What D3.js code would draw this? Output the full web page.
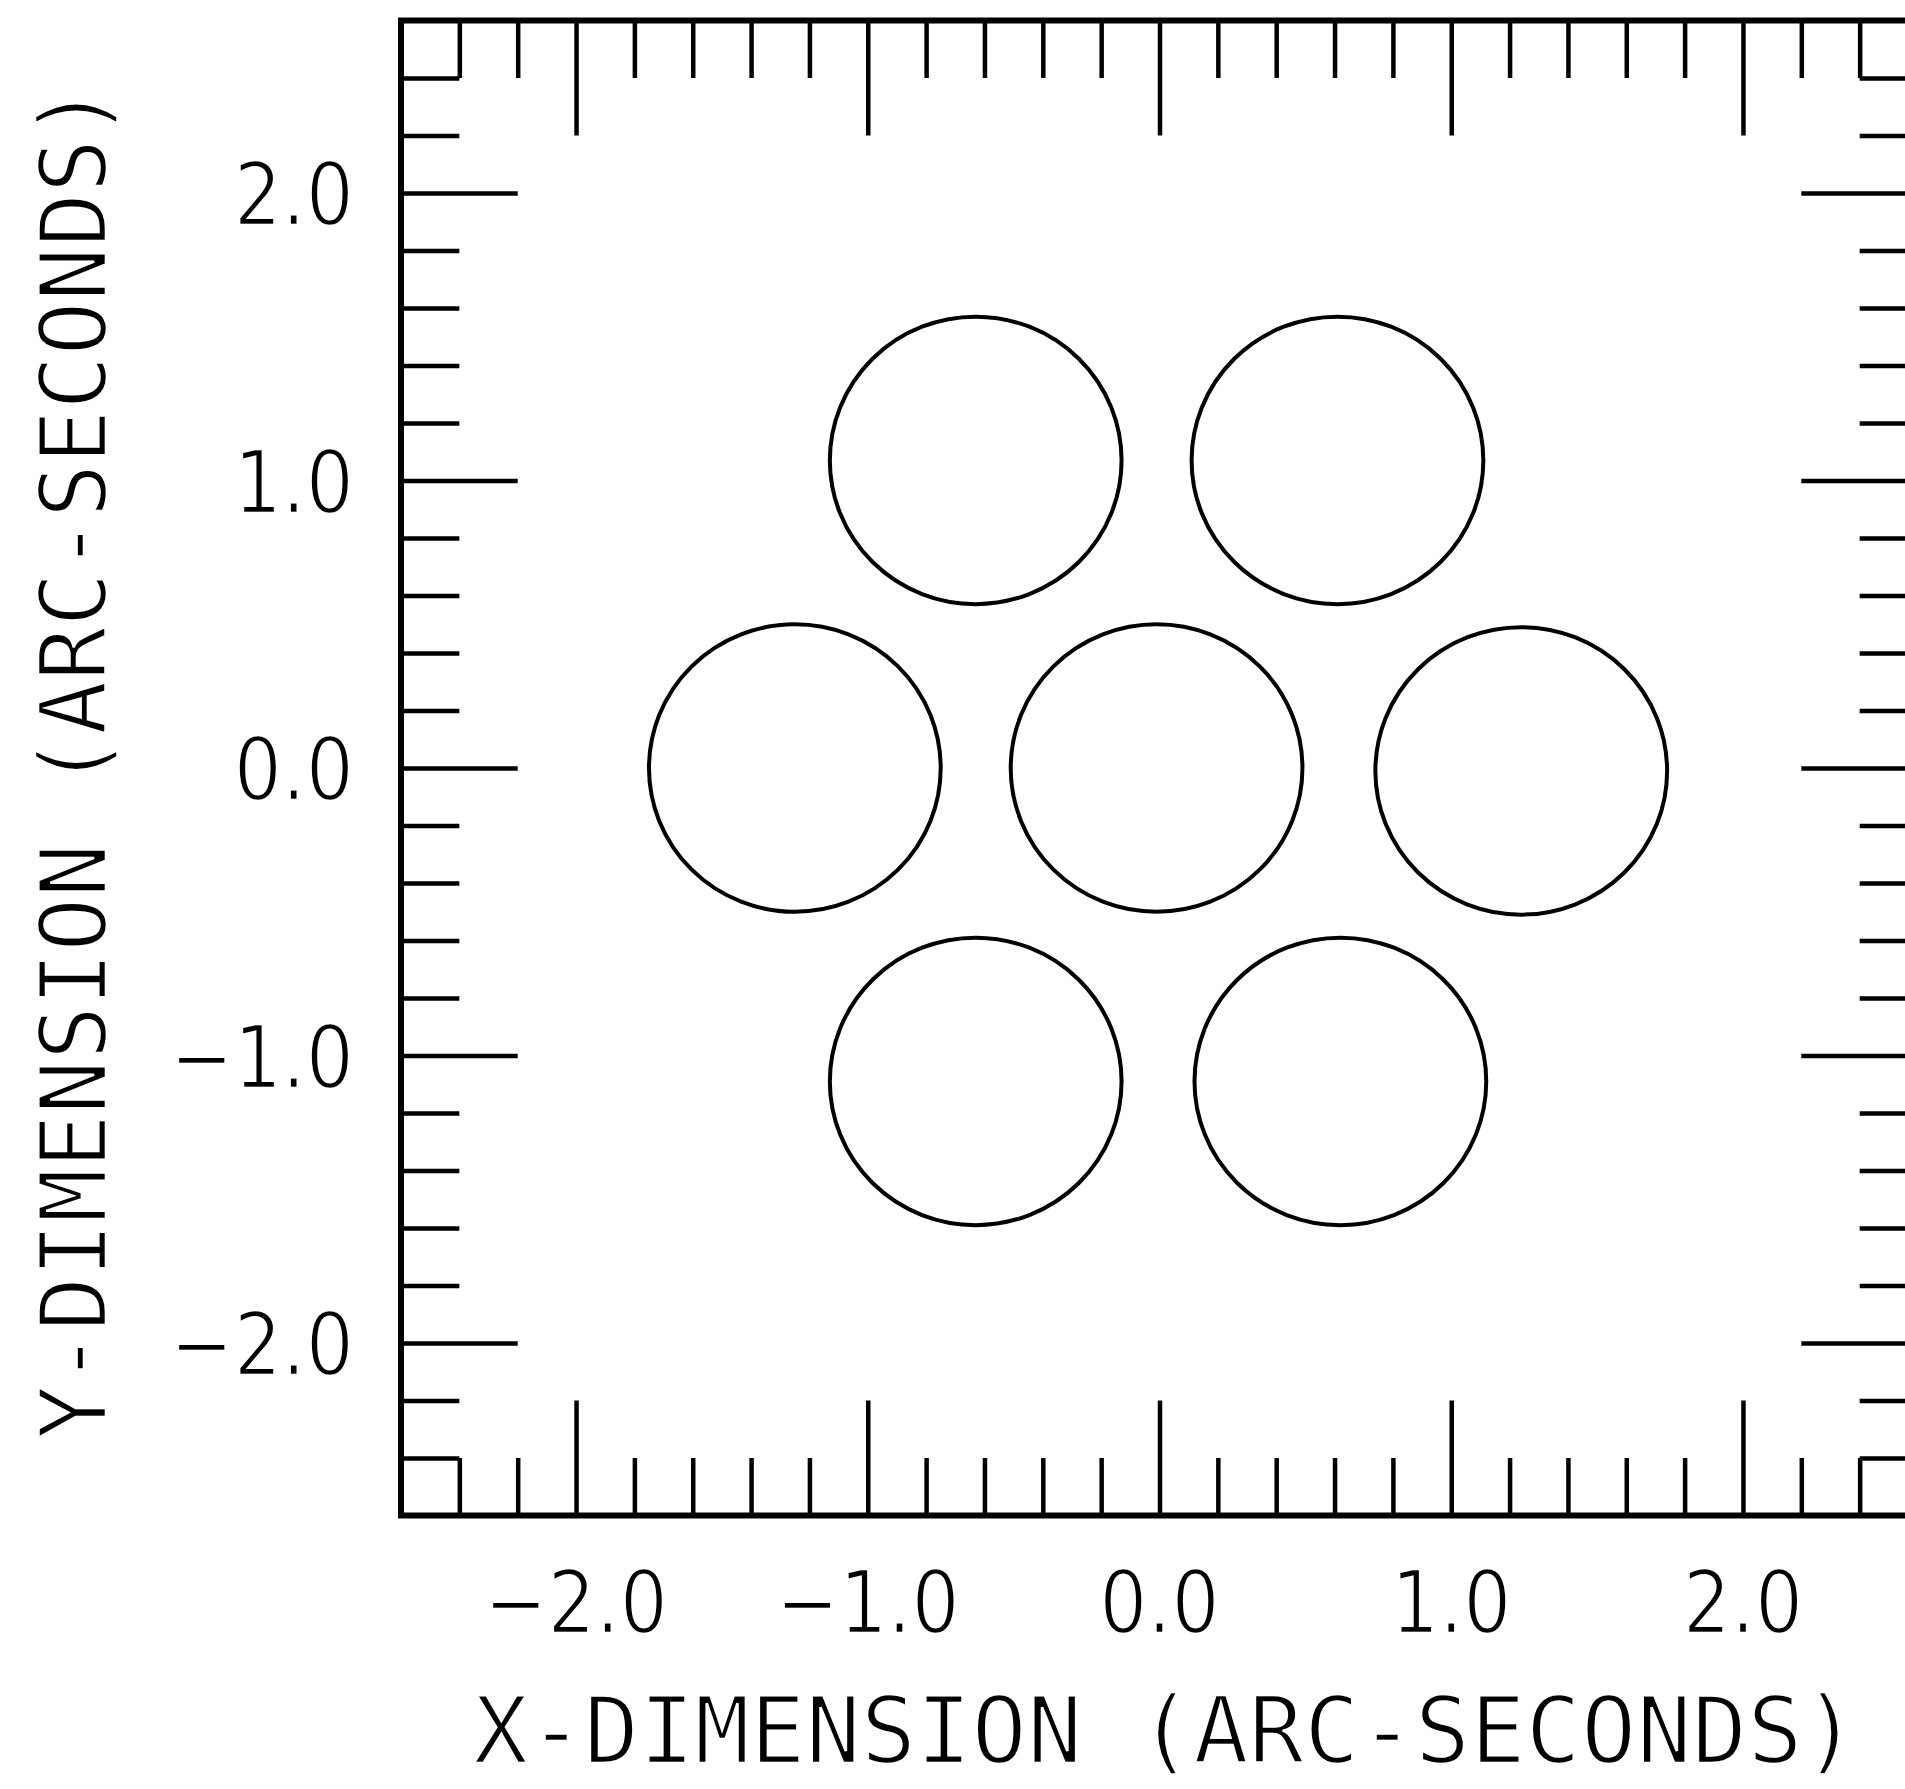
<!DOCTYPE html>
<html>
<head>
<meta charset="utf-8">
<script src="https://cdn.jsdelivr.net/npm/d3@7"></script>
<style>
  body { margin: 0; background: #fff; }
  svg { display: block; }
</style>
</head>
<body>
<svg id="chart"></svg>
<script>
// axis ranges (arc-seconds)
const xDomain = [-2.6, 2.6];
const yDomain = [-2.6, 2.6];

// labelled (long) ticks and short ticks
const majorTicks = [-2, -1, 0, 1, 2];
const majorLabels = ["−2.0", "−1.0", "0.0", "1.0", "2.0"];
const minorTicks = [-2.4, -2.2, -1.8, -1.6, -1.4, -1.2, -0.8, -0.6, -0.4, -0.2,
                    0.2, 0.4, 0.6, 0.8, 1.2, 1.4, 1.6, 1.8, 2.2, 2.4];

// fibre / aperture centres
const circleX = [-0.63, 0.61, -1.25, -0.01, 1.24, -0.63, 0.62];
const circleY = [1.07, 1.07, 0.0, 0.0, -0.01, -1.09, -1.09];
const circleR = [0.5, 0.5, 0.5, 0.5, 0.5, 0.5, 0.5];

const xTitle = "X-DIMENSION (ARC-SECONDS)";
const yTitle = "Y-DIMENSION (ARC-SECONDS)";

const width = 1905, height = 1789;
const titleFont = "'DejaVu Sans Mono', 'Liberation Mono', monospace";
const tickFont = "'DejaVu Sans', 'Liberation Sans', sans-serif";

const svg = d3.select("#chart")
    .attr("width", width)
    .attr("height", height);

svg.append("rect")
    .attr("width", width)
    .attr("height", height)
    .attr("fill", "#fff");

const x = d3.scaleLinear().domain(xDomain).range([401, 1918]);
const y = d3.scaleLinear().domain(yDomain).range([1515.5, 20.5]);

// tick lengths are in data units: 0.2 short, 0.4 long
const xLen = d => x(xDomain[0] + d) - x(xDomain[0]);
const yLen = d => y(yDomain[0]) - y(yDomain[0] + d);

function drawTicks(axis, tx, ty) {
    const g = svg.append("g")
        .attr("transform", `translate(${tx}, ${ty})`)
        .call(axis.tickFormat("").tickSizeOuter(0));
    g.select(".domain").remove();
    g.selectAll("line")
        .attr("stroke", "#000")
        .attr("stroke-width", 4.5);
}

// bottom + top edges, ticks pointing inward
drawTicks(d3.axisTop(x).tickValues(minorTicks).tickSize(yLen(0.2)), 0, y(yDomain[0]));
drawTicks(d3.axisTop(x).tickValues(majorTicks).tickSize(yLen(0.4)), 0, y(yDomain[0]));
drawTicks(d3.axisBottom(x).tickValues(minorTicks).tickSize(yLen(0.2)), 0, y(yDomain[1]));
drawTicks(d3.axisBottom(x).tickValues(majorTicks).tickSize(yLen(0.4)), 0, y(yDomain[1]));

// left + right edges
drawTicks(d3.axisRight(y).tickValues(minorTicks).tickSize(xLen(0.2)), x(xDomain[0]), 0);
drawTicks(d3.axisRight(y).tickValues(majorTicks).tickSize(xLen(0.4)), x(xDomain[0]), 0);
drawTicks(d3.axisLeft(y).tickValues(minorTicks).tickSize(xLen(0.2)), x(xDomain[1]), 0);
drawTicks(d3.axisLeft(y).tickValues(majorTicks).tickSize(xLen(0.4)), x(xDomain[1]), 0);

// frame
svg.append("rect")
    .attr("x", x(xDomain[0]))
    .attr("y", y(yDomain[1]))
    .attr("width", x(xDomain[1]) - x(xDomain[0]))
    .attr("height", y(yDomain[0]) - y(yDomain[1]))
    .attr("fill", "none")
    .attr("stroke", "#000")
    .attr("stroke-width", 6);

// circles (drawn through both scales, so slightly elliptical like the original)
svg.selectAll(".ring")
    .data(circleX)
    .enter()
    .append("ellipse")
    .attr("class", "ring")
    .attr("cx", d => x(d))
    .attr("cy", (d, i) => y(circleY[i]))
    .attr("rx", (d, i) => x(circleR[i]) - x(0))
    .attr("ry", (d, i) => y(0) - y(circleR[i]))
    .attr("fill", "none")
    .attr("stroke", "#000")
    .attr("stroke-width", 4);

// white halo thins the glyphs toward the plotter look
function thin(sel) {
    sel.attr("fill", "#000")
        .attr("stroke", "#fff")
        .attr("stroke-width", 2.5);
}

// x tick labels (squeezed horizontally)
svg.selectAll(".xlab")
    .data(majorTicks)
    .enter()
    .append("text")
    .attr("class", "xlab")
    .attr("transform", d => `translate(${x(d)}, 1633) scale(0.86, 1)`)
    .attr("text-anchor", "middle")
    .attr("font-family", tickFont)
    .attr("font-size", 88)
    .text((d, i) => majorLabels[i])
    .call(thin);

// y tick labels
svg.selectAll(".ylab")
    .data(majorTicks)
    .enter()
    .append("text")
    .attr("class", "ylab")
    .attr("transform", d => `translate(354, ${y(d) + 32}) scale(0.86, 1)`)
    .attr("text-anchor", "end")
    .attr("font-family", tickFont)
    .attr("font-size", 88)
    .text((d, i) => majorLabels[i])
    .call(thin);

// axis titles
svg.append("text")
    .attr("x", x(0) + 6)
    .attr("y", 1763)
    .attr("text-anchor", "middle")
    .attr("font-family", titleFont)
    .attr("font-size", 92)
    .attr("textLength", 1385)
    .attr("lengthAdjust", "spacingAndGlyphs")
    .text(xTitle)
    .call(thin);

svg.append("text")
    .attr("transform", `translate(106, ${y(0) - 6}) rotate(-90)`)
    .attr("text-anchor", "middle")
    .attr("font-family", titleFont)
    .attr("font-size", 92)
    .attr("textLength", 1355)
    .attr("lengthAdjust", "spacingAndGlyphs")
    .text(yTitle)
    .call(thin);
</script>
</body>
</html>
